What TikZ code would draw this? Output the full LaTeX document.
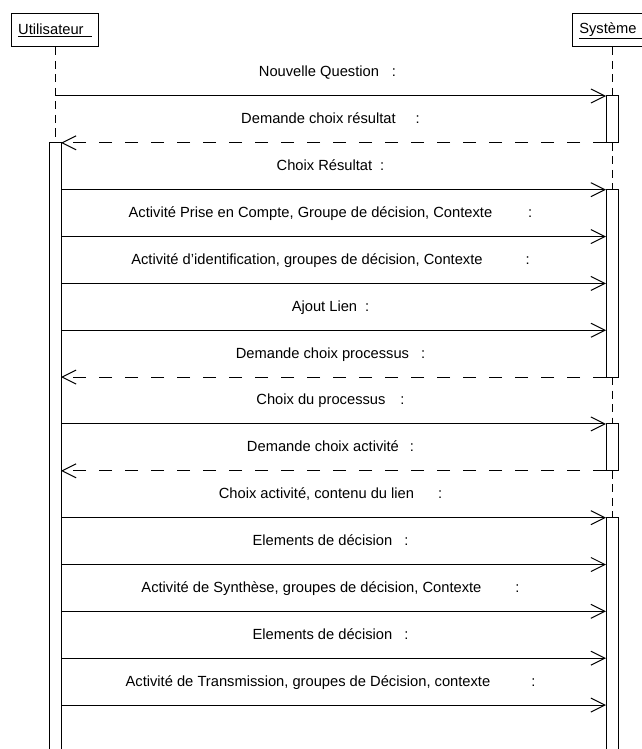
\documentclass[tikz,border=0pt]{standalone}
\usepackage{fontspec}
\setmainfont{Liberation Sans}
\usetikzlibrary{arrows.meta}

\begin{document}
\begin{tikzpicture}[x=1pt,y=-1pt,font=\fontsize{14.7}{17}\selectfont,
  actor/.style={draw,line width=1pt,minimum height=33pt,inner xsep=7pt},
  bar/.style={draw,fill=white,line width=1pt},
  life/.style={line width=1pt,dash pattern=on 8pt off 5.5pt},
  call/.style={-{Straight Barb[length=14pt,width=14pt]},line width=1pt},
  reply/.style={call,dash pattern=on 13pt off 13pt},
  lbl/.style={midway,anchor=base,yshift=19pt,xshift=-3pt,inner sep=0pt}]
\useasboundingbox (0,0) rectangle (642,749);
\node[actor] (user) at (55,30.5) {\underline{Utilisateur\ \ }};
\node[actor] (sys) at (612,30.5) {\underline{Système\ \ }};
\foreach \i in {1,...,14} {
  \coordinate (a\i) at (61,{96+46.85*(\i-1)});
  \coordinate (b\i) at (606,{96+46.85*(\i-1)});
}
% lifelines
\draw[life] (user.south) -- ([xshift=-6pt]a2);
\draw[life] (sys.south) -- ([xshift=6pt]b1);
\draw[life] ([xshift=6pt]b2) -- ([xshift=6pt]b3);
\draw[life] ([xshift=6pt]b7) -- ([xshift=6pt]b8);
\draw[life] ([xshift=6pt]b9) -- ([xshift=6pt]b10);
% activations
\draw[bar] ([xshift=-12pt]a2) rectangle (61,760);
\draw[bar] (b1) rectangle ([xshift=12pt]b2);
\draw[bar] (b3) rectangle ([xshift=12pt]b7);
\draw[bar] (b8) rectangle ([xshift=12pt]b9);
\draw[bar] (b10) rectangle (618,760);
% messages
\draw[call] (user |- b1) -- node[lbl]{Nouvelle Question\hspace{13pt}:} (b1);
\draw[reply] (b2) -- node[lbl]{Demande choix résultat\hspace{20pt}:} (a2);
\draw[call] (a3) -- node[lbl]{Choix Résultat\hspace{8pt}:} (b3);
\draw[call] (a4) -- node[lbl]{Activité Prise en Compte, Groupe de décision, Contexte\hspace{36pt}:} (b4);
\draw[call] (a5) -- node[lbl]{Activité d’identification, groupes de décision, Contexte\hspace{43pt}:} (b5);
\draw[call] (a6) -- node[lbl]{Ajout Lien\hspace{8pt}:} (b6);
\draw[reply] (b7) -- node[lbl]{Demande choix processus\hspace{12pt}:} (a7);
\draw[call] (a8) -- node[lbl]{Choix du processus\hspace{15pt}:} (b8);
\draw[reply] (b9) -- node[lbl]{Demande choix activité\hspace{11pt}:} (a9);
\draw[call] (a10) -- node[lbl]{Choix activité, contenu du lien\hspace{24pt}:} (b10);
\draw[call] (a11) -- node[lbl]{Elements de décision\hspace{12pt}:} (b11);
\draw[call] (a12) -- node[lbl]{Activité de Synthèse, groupes de décision, Contexte\hspace{34pt}:} (b12);
\draw[call] (a13) -- node[lbl]{Elements de décision\hspace{12pt}:} (b13);
\draw[call] (a14) -- node[lbl]{Activité de Transmission, groupes de Décision, contexte\hspace{41pt}:} (b14);
\end{tikzpicture}
\end{document}
